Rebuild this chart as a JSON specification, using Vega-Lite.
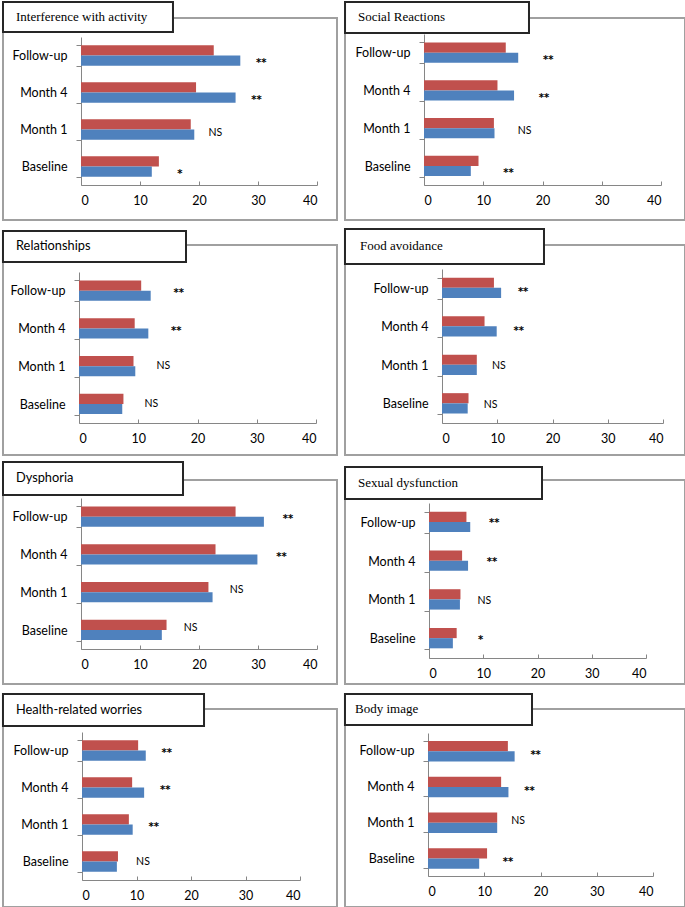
{
  "$schema": "https://vega.github.io/schema/vega-lite/v6.json",
  "background": "white",
  "padding": {"left": 0, "top": 0, "right": 0, "bottom": 0},
  "columns": 2,
  "spacing": {"row": 25, "column": 8},
  "bounds": "flush",
  "datasets": {
    "scores": [
      {"panel": "Interference with activity", "time": "Follow-up", "series": "Series 2", "value": 22.5, "sig": "**"},
      {"panel": "Interference with activity", "time": "Follow-up", "series": "Series 1", "value": 27.0, "sig": "**"},
      {"panel": "Interference with activity", "time": "Month 4", "series": "Series 2", "value": 19.5, "sig": "**"},
      {"panel": "Interference with activity", "time": "Month 4", "series": "Series 1", "value": 26.2, "sig": "**"},
      {"panel": "Interference with activity", "time": "Month 1", "series": "Series 2", "value": 18.6, "sig": "NS"},
      {"panel": "Interference with activity", "time": "Month 1", "series": "Series 1", "value": 19.2, "sig": "NS"},
      {"panel": "Interference with activity", "time": "Baseline", "series": "Series 2", "value": 13.2, "sig": "*"},
      {"panel": "Interference with activity", "time": "Baseline", "series": "Series 1", "value": 12.0, "sig": "*"},

      {"panel": "Social Reactions", "time": "Follow-up", "series": "Series 2", "value": 13.8, "sig": "**"},
      {"panel": "Social Reactions", "time": "Follow-up", "series": "Series 1", "value": 15.9, "sig": "**"},
      {"panel": "Social Reactions", "time": "Month 4", "series": "Series 2", "value": 12.4, "sig": "**"},
      {"panel": "Social Reactions", "time": "Month 4", "series": "Series 1", "value": 15.2, "sig": "**"},
      {"panel": "Social Reactions", "time": "Month 1", "series": "Series 2", "value": 11.8, "sig": "NS"},
      {"panel": "Social Reactions", "time": "Month 1", "series": "Series 1", "value": 11.9, "sig": "NS"},
      {"panel": "Social Reactions", "time": "Baseline", "series": "Series 2", "value": 9.2, "sig": "**"},
      {"panel": "Social Reactions", "time": "Baseline", "series": "Series 1", "value": 7.9, "sig": "**"},

      {"panel": "Relationships", "time": "Follow-up", "series": "Series 2", "value": 10.5, "sig": "**"},
      {"panel": "Relationships", "time": "Follow-up", "series": "Series 1", "value": 12.1, "sig": "**"},
      {"panel": "Relationships", "time": "Month 4", "series": "Series 2", "value": 9.4, "sig": "**"},
      {"panel": "Relationships", "time": "Month 4", "series": "Series 1", "value": 11.7, "sig": "**"},
      {"panel": "Relationships", "time": "Month 1", "series": "Series 2", "value": 9.2, "sig": "NS"},
      {"panel": "Relationships", "time": "Month 1", "series": "Series 1", "value": 9.5, "sig": "NS"},
      {"panel": "Relationships", "time": "Baseline", "series": "Series 2", "value": 7.5, "sig": "NS"},
      {"panel": "Relationships", "time": "Baseline", "series": "Series 1", "value": 7.3, "sig": "NS"},

      {"panel": "Food avoidance", "time": "Follow-up", "series": "Series 2", "value": 9.4, "sig": "**"},
      {"panel": "Food avoidance", "time": "Follow-up", "series": "Series 1", "value": 10.7, "sig": "**"},
      {"panel": "Food avoidance", "time": "Month 4", "series": "Series 2", "value": 7.7, "sig": "**"},
      {"panel": "Food avoidance", "time": "Month 4", "series": "Series 1", "value": 9.9, "sig": "**"},
      {"panel": "Food avoidance", "time": "Month 1", "series": "Series 2", "value": 6.3, "sig": "NS"},
      {"panel": "Food avoidance", "time": "Month 1", "series": "Series 1", "value": 6.3, "sig": "NS"},
      {"panel": "Food avoidance", "time": "Baseline", "series": "Series 2", "value": 4.8, "sig": "NS"},
      {"panel": "Food avoidance", "time": "Baseline", "series": "Series 1", "value": 4.65, "sig": "NS"},

      {"panel": "Dysphoria", "time": "Follow-up", "series": "Series 2", "value": 26.2, "sig": "**"},
      {"panel": "Dysphoria", "time": "Follow-up", "series": "Series 1", "value": 31.0, "sig": "**"},
      {"panel": "Dysphoria", "time": "Month 4", "series": "Series 2", "value": 22.8, "sig": "**"},
      {"panel": "Dysphoria", "time": "Month 4", "series": "Series 1", "value": 29.9, "sig": "**"},
      {"panel": "Dysphoria", "time": "Month 1", "series": "Series 2", "value": 21.6, "sig": "NS"},
      {"panel": "Dysphoria", "time": "Month 1", "series": "Series 1", "value": 22.3, "sig": "NS"},
      {"panel": "Dysphoria", "time": "Baseline", "series": "Series 2", "value": 14.5, "sig": "NS"},
      {"panel": "Dysphoria", "time": "Baseline", "series": "Series 1", "value": 13.7, "sig": "NS"},

      {"panel": "Sexual dysfunction", "time": "Follow-up", "series": "Series 2", "value": 6.9, "sig": "**"},
      {"panel": "Sexual dysfunction", "time": "Follow-up", "series": "Series 1", "value": 7.6, "sig": "**"},
      {"panel": "Sexual dysfunction", "time": "Month 4", "series": "Series 2", "value": 6.1, "sig": "**"},
      {"panel": "Sexual dysfunction", "time": "Month 4", "series": "Series 1", "value": 7.2, "sig": "**"},
      {"panel": "Sexual dysfunction", "time": "Month 1", "series": "Series 2", "value": 5.8, "sig": "NS"},
      {"panel": "Sexual dysfunction", "time": "Month 1", "series": "Series 1", "value": 5.7, "sig": "NS"},
      {"panel": "Sexual dysfunction", "time": "Baseline", "series": "Series 2", "value": 5.1, "sig": "*"},
      {"panel": "Sexual dysfunction", "time": "Baseline", "series": "Series 1", "value": 4.4, "sig": "*"},

      {"panel": "Health-related worries", "time": "Follow-up", "series": "Series 2", "value": 10.3, "sig": "**"},
      {"panel": "Health-related worries", "time": "Follow-up", "series": "Series 1", "value": 11.7, "sig": "**"},
      {"panel": "Health-related worries", "time": "Month 4", "series": "Series 2", "value": 9.2, "sig": "**"},
      {"panel": "Health-related worries", "time": "Month 4", "series": "Series 1", "value": 11.4, "sig": "**"},
      {"panel": "Health-related worries", "time": "Month 1", "series": "Series 2", "value": 8.6, "sig": "**"},
      {"panel": "Health-related worries", "time": "Month 1", "series": "Series 1", "value": 9.3, "sig": "**"},
      {"panel": "Health-related worries", "time": "Baseline", "series": "Series 2", "value": 6.6, "sig": "NS"},
      {"panel": "Health-related worries", "time": "Baseline", "series": "Series 1", "value": 6.4, "sig": "NS"},

      {"panel": "Body image", "time": "Follow-up", "series": "Series 2", "value": 14.2, "sig": "**"},
      {"panel": "Body image", "time": "Follow-up", "series": "Series 1", "value": 15.4, "sig": "**"},
      {"panel": "Body image", "time": "Month 4", "series": "Series 2", "value": 13.0, "sig": "**"},
      {"panel": "Body image", "time": "Month 4", "series": "Series 1", "value": 14.3, "sig": "**"},
      {"panel": "Body image", "time": "Month 1", "series": "Series 2", "value": 12.3, "sig": "NS"},
      {"panel": "Body image", "time": "Month 1", "series": "Series 1", "value": 12.3, "sig": "NS"},
      {"panel": "Body image", "time": "Baseline", "series": "Series 2", "value": 10.5, "sig": "**"},
      {"panel": "Body image", "time": "Baseline", "series": "Series 1", "value": 9.1, "sig": "**"}
    ]
  },
  "concat": [
    {
      "width": 334, "height": 202,
      "data": {"name": "scores"},
      "transform": [{"filter": "datum.panel === 'Interference with activity'"}],
      "layer": [
        {"layer": [
          {"mark": {"type": "bar"},
           "encoding": {
             "x": {"field": "value", "type": "quantitative", "title": null, "scale": {"domain": [0, 40], "range": [78, 314]}, "axis": {"values": [0, 10, 20, 30, 40], "offset": -35}},
             "y": {"field": "time", "type": "nominal", "title": null, "sort": ["Follow-up", "Month 4", "Month 1", "Baseline"], "scale": {"domain": ["Follow-up", "Month 4", "Month 1", "Baseline"], "range": [19, 167], "paddingInner": 0.45, "paddingOuter": 0.225}, "axis": {"offset": -78}},
             "yOffset": {"field": "series", "type": "nominal", "scale": {"domain": ["Series 2", "Series 1"]}},
             "color": {"field": "series", "type": "nominal", "scale": {"domain": ["Series 1", "Series 2"], "range": ["#4F81BD", "#C0504D"]}, "legend": null}
           }},
          {"transform": [{"filter": "datum.sig === 'NS'"}],
           "mark": {"type": "text", "align": "center", "baseline": "middle", "dx": 21, "dy": 3, "font": "Lato", "fontSize": 10.5, "color": "#000000"},
           "encoding": {"x": {"aggregate": "max", "field": "value", "type": "quantitative"}, "y": {"field": "time", "type": "nominal"}, "text": {"field": "sig", "type": "nominal"}}},
          {"transform": [{"filter": "datum.sig !== 'NS'"}],
           "mark": {"type": "text", "align": "center", "baseline": "middle", "dx": 21, "dy": 7, "font": "DejaVu Sans", "fontWeight": "bold", "fontSize": 10, "color": "#000000"},
           "encoding": {"x": {"aggregate": "max", "field": "value", "type": "quantitative"}, "y": {"field": "time", "type": "nominal"}, "text": {"field": "sig", "type": "nominal"}}}
        ]},
        {"data": {"values": [{"title": "Interference with activity"}]},
         "layer": [
          {"mark": {"type": "rect", "fill": "white", "stroke": "#262626", "strokeWidth": 2},
           "encoding": {"x": {"datum": -13.22}, "x2": {"datum": 15.59}, "y": {"datum": 1.0792, "type": "quantitative", "scale": {"domain": [0, 1], "nice": false, "zero": false}, "axis": null}, "y2": {"datum": 0.9307}}},
          {"mark": {"type": "text", "align": "left", "baseline": "middle", "font": "Liberation Serif", "fontSize": 13, "color": "#000000"},
           "encoding": {"x": {"datum": -11.02}, "y": {"datum": 1.0074, "type": "quantitative"}, "text": {"field": "title", "type": "nominal"}}}
        ]}
      ],
      "resolve": {"scale": {"y": "independent"}}
    },
    {
      "width": 340, "height": 202,
      "data": {"name": "scores"},
      "transform": [{"filter": "datum.panel === 'Social Reactions'"}],
      "layer": [
        {"layer": [
          {"mark": {"type": "bar"},
           "encoding": {
             "x": {"field": "value", "type": "quantitative", "title": null, "scale": {"domain": [0, 40], "range": [79, 316]}, "axis": {"values": [0, 10, 20, 30, 40], "offset": -35}},
             "y": {"field": "time", "type": "nominal", "title": null, "sort": ["Follow-up", "Month 4", "Month 1", "Baseline"], "scale": {"domain": ["Follow-up", "Month 4", "Month 1", "Baseline"], "range": [16, 167], "paddingInner": 0.45, "paddingOuter": 0.225}, "axis": {"offset": -79}},
             "yOffset": {"field": "series", "type": "nominal", "scale": {"domain": ["Series 2", "Series 1"]}},
             "color": {"field": "series", "type": "nominal", "scale": {"domain": ["Series 1", "Series 2"], "range": ["#4F81BD", "#C0504D"]}, "legend": null}
           }},
          {"transform": [{"filter": "datum.sig === 'NS'"}],
           "mark": {"type": "text", "align": "center", "baseline": "middle", "dx": 30, "dy": 3, "font": "Lato", "fontSize": 10.5, "color": "#000000"},
           "encoding": {"x": {"aggregate": "max", "field": "value", "type": "quantitative"}, "y": {"field": "time", "type": "nominal"}, "text": {"field": "sig", "type": "nominal"}}},
          {"transform": [{"filter": "datum.sig !== 'NS'"}],
           "mark": {"type": "text", "align": "center", "baseline": "middle", "dx": 30, "dy": 7, "font": "DejaVu Sans", "fontWeight": "bold", "fontSize": 10, "color": "#000000"},
           "encoding": {"x": {"aggregate": "max", "field": "value", "type": "quantitative"}, "y": {"field": "time", "type": "nominal"}, "text": {"field": "sig", "type": "nominal"}}}
        ]},
        {"data": {"values": [{"title": "Social Reactions"}]},
         "layer": [
          {"mark": {"type": "rect", "fill": "white", "stroke": "#262626", "strokeWidth": 2},
           "encoding": {"x": {"datum": -13.33}, "x2": {"datum": 17.72}, "y": {"datum": 1.0792, "type": "quantitative", "scale": {"domain": [0, 1], "nice": false, "zero": false}, "axis": null}, "y2": {"datum": 0.9257}}},
          {"mark": {"type": "text", "align": "left", "baseline": "middle", "font": "Liberation Serif", "fontSize": 13, "color": "#000000"},
           "encoding": {"x": {"datum": -11.14}, "y": {"datum": 1.005, "type": "quantitative"}, "text": {"field": "title", "type": "nominal"}}}
        ]}
      ],
      "resolve": {"scale": {"y": "independent"}}
    },
    {
      "width": 334, "height": 210,
      "data": {"name": "scores"},
      "transform": [{"filter": "datum.panel === 'Relationships'"}],
      "layer": [
        {"layer": [
          {"mark": {"type": "bar"},
           "encoding": {
             "x": {"field": "value", "type": "quantitative", "title": null, "scale": {"domain": [0, 40], "range": [76, 313]}, "axis": {"values": [0, 10, 20, 30, 40], "offset": -32}},
             "y": {"field": "time", "type": "nominal", "title": null, "sort": ["Follow-up", "Month 4", "Month 1", "Baseline"], "scale": {"domain": ["Follow-up", "Month 4", "Month 1", "Baseline"], "range": [27, 178], "paddingInner": 0.45, "paddingOuter": 0.225}, "axis": {"offset": -76}},
             "yOffset": {"field": "series", "type": "nominal", "scale": {"domain": ["Series 2", "Series 1"]}},
             "color": {"field": "series", "type": "nominal", "scale": {"domain": ["Series 1", "Series 2"], "range": ["#4F81BD", "#C0504D"]}, "legend": null}
           }},
          {"transform": [{"filter": "datum.sig === 'NS'"}],
           "mark": {"type": "text", "align": "center", "baseline": "middle", "dx": 28, "dy": 0, "font": "Lato", "fontSize": 10.5, "color": "#000000"},
           "encoding": {"x": {"aggregate": "max", "field": "value", "type": "quantitative"}, "y": {"field": "time", "type": "nominal"}, "text": {"field": "sig", "type": "nominal"}}},
          {"transform": [{"filter": "datum.sig !== 'NS'"}],
           "mark": {"type": "text", "align": "center", "baseline": "middle", "dx": 28, "dy": 2, "font": "DejaVu Sans", "fontWeight": "bold", "fontSize": 10, "color": "#000000"},
           "encoding": {"x": {"aggregate": "max", "field": "value", "type": "quantitative"}, "y": {"field": "time", "type": "nominal"}, "text": {"field": "sig", "type": "nominal"}}}
        ]},
        {"data": {"values": [{"title": "Relationships"}]},
         "layer": [
          {"mark": {"type": "rect", "fill": "white", "stroke": "#262626", "strokeWidth": 2},
           "encoding": {"x": {"datum": -12.83}, "x2": {"datum": 18.06}, "y": {"datum": 1.0667, "type": "quantitative", "scale": {"domain": [0, 1], "nice": false, "zero": false}, "axis": null}, "y2": {"datum": 0.919}}},
          {"mark": {"type": "text", "align": "left", "baseline": "middle", "font": "Lato", "fontSize": 12.8, "color": "#000000"},
           "encoding": {"x": {"datum": -10.63}, "y": {"datum": 0.9929, "type": "quantitative"}, "text": {"field": "title", "type": "nominal"}}}
        ]}
      ],
      "resolve": {"scale": {"y": "independent"}}
    },
    {
      "width": 340, "height": 210,
      "data": {"name": "scores"},
      "transform": [{"filter": "datum.panel === 'Food avoidance'"}],
      "layer": [
        {"layer": [
          {"mark": {"type": "bar"},
           "encoding": {
             "x": {"field": "value", "type": "quantitative", "title": null, "scale": {"domain": [0, 40], "range": [97, 318]}, "axis": {"values": [0, 10, 20, 30, 40], "offset": -32}},
             "y": {"field": "time", "type": "nominal", "title": null, "sort": ["Follow-up", "Month 4", "Month 1", "Baseline"], "scale": {"domain": ["Follow-up", "Month 4", "Month 1", "Baseline"], "range": [24, 178], "paddingInner": 0.45, "paddingOuter": 0.225}, "axis": {"offset": -97}},
             "yOffset": {"field": "series", "type": "nominal", "scale": {"domain": ["Series 2", "Series 1"]}},
             "color": {"field": "series", "type": "nominal", "scale": {"domain": ["Series 1", "Series 2"], "range": ["#4F81BD", "#C0504D"]}, "legend": null}
           }},
          {"transform": [{"filter": "datum.sig === 'NS'"}],
           "mark": {"type": "text", "align": "center", "baseline": "middle", "dx": 22, "dy": 1, "font": "Lato", "fontSize": 10.5, "color": "#000000"},
           "encoding": {"x": {"aggregate": "max", "field": "value", "type": "quantitative"}, "y": {"field": "time", "type": "nominal"}, "text": {"field": "sig", "type": "nominal"}}},
          {"transform": [{"filter": "datum.sig !== 'NS'"}],
           "mark": {"type": "text", "align": "center", "baseline": "middle", "dx": 22, "dy": 4, "font": "DejaVu Sans", "fontWeight": "bold", "fontSize": 10, "color": "#000000"},
           "encoding": {"x": {"aggregate": "max", "field": "value", "type": "quantitative"}, "y": {"field": "time", "type": "nominal"}, "text": {"field": "sig", "type": "nominal"}}}
        ]},
        {"data": {"values": [{"title": "Food avoidance"}]},
         "layer": [
          {"mark": {"type": "rect", "fill": "white", "stroke": "#262626", "strokeWidth": 2},
           "encoding": {"x": {"datum": -17.56}, "x2": {"datum": 18.46}, "y": {"datum": 1.0762, "type": "quantitative", "scale": {"domain": [0, 1], "nice": false, "zero": false}, "axis": null}, "y2": {"datum": 0.9095}}},
          {"mark": {"type": "text", "align": "left", "baseline": "middle", "font": "Liberation Serif", "fontSize": 13, "color": "#000000"},
           "encoding": {"x": {"datum": -14.84}, "y": {"datum": 0.9929, "type": "quantitative"}, "text": {"field": "title", "type": "nominal"}}}
        ]}
      ],
      "resolve": {"scale": {"y": "independent"}}
    },
    {
      "width": 334, "height": 204,
      "data": {"name": "scores"},
      "transform": [{"filter": "datum.panel === 'Dysphoria'"}],
      "layer": [
        {"layer": [
          {"mark": {"type": "bar"},
           "encoding": {
             "x": {"field": "value", "type": "quantitative", "title": null, "scale": {"domain": [0, 40], "range": [78, 314]}, "axis": {"values": [0, 10, 20, 30, 40], "offset": -35}},
             "y": {"field": "time", "type": "nominal", "title": null, "sort": ["Follow-up", "Month 4", "Month 1", "Baseline"], "scale": {"domain": ["Follow-up", "Month 4", "Month 1", "Baseline"], "range": [18, 169], "paddingInner": 0.45, "paddingOuter": 0.225}, "axis": {"offset": -78}},
             "yOffset": {"field": "series", "type": "nominal", "scale": {"domain": ["Series 2", "Series 1"]}},
             "color": {"field": "series", "type": "nominal", "scale": {"domain": ["Series 1", "Series 2"], "range": ["#4F81BD", "#C0504D"]}, "legend": null}
           }},
          {"transform": [{"filter": "datum.sig === 'NS'"}],
           "mark": {"type": "text", "align": "center", "baseline": "middle", "dx": 24, "dy": -2, "font": "Lato", "fontSize": 10.5, "color": "#000000"},
           "encoding": {"x": {"aggregate": "max", "field": "value", "type": "quantitative"}, "y": {"field": "time", "type": "nominal"}, "text": {"field": "sig", "type": "nominal"}}},
          {"transform": [{"filter": "datum.sig !== 'NS'"}],
           "mark": {"type": "text", "align": "center", "baseline": "middle", "dx": 24, "dy": 2, "font": "DejaVu Sans", "fontWeight": "bold", "fontSize": 10, "color": "#000000"},
           "encoding": {"x": {"aggregate": "max", "field": "value", "type": "quantitative"}, "y": {"field": "time", "type": "nominal"}, "text": {"field": "sig", "type": "nominal"}}}
        ]},
        {"data": {"values": [{"title": "Dysphoria"}]},
         "layer": [
          {"mark": {"type": "rect", "fill": "white", "stroke": "#262626", "strokeWidth": 2},
           "encoding": {"x": {"datum": -13.22}, "x2": {"datum": 17.29}, "y": {"datum": 1.0882, "type": "quantitative", "scale": {"domain": [0, 1], "nice": false, "zero": false}, "axis": null}, "y2": {"datum": 0.9265}}},
          {"mark": {"type": "text", "align": "left", "baseline": "middle", "font": "Lato", "fontSize": 12.8, "color": "#000000"},
           "encoding": {"x": {"datum": -11.02}, "y": {"datum": 1.0074, "type": "quantitative"}, "text": {"field": "title", "type": "nominal"}}}
        ]}
      ],
      "resolve": {"scale": {"y": "independent"}}
    },
    {
      "width": 340, "height": 204,
      "data": {"name": "scores"},
      "transform": [{"filter": "datum.panel === 'Sexual dysfunction'"}],
      "layer": [
        {"layer": [
          {"mark": {"type": "bar"},
           "encoding": {
             "x": {"field": "value", "type": "quantitative", "title": null, "scale": {"domain": [0, 40], "range": [84, 301]}, "axis": {"values": [0, 10, 20, 30, 40], "offset": -26}},
             "y": {"field": "time", "type": "nominal", "title": null, "sort": ["Follow-up", "Month 4", "Month 1", "Baseline"], "scale": {"domain": ["Follow-up", "Month 4", "Month 1", "Baseline"], "range": [23, 178], "paddingInner": 0.45, "paddingOuter": 0.225}, "axis": {"offset": -84}},
             "yOffset": {"field": "series", "type": "nominal", "scale": {"domain": ["Series 2", "Series 1"]}},
             "color": {"field": "series", "type": "nominal", "scale": {"domain": ["Series 1", "Series 2"], "range": ["#4F81BD", "#C0504D"]}, "legend": null}
           }},
          {"transform": [{"filter": "datum.sig === 'NS'"}],
           "mark": {"type": "text", "align": "center", "baseline": "middle", "dx": 24, "dy": 1, "font": "Lato", "fontSize": 10.5, "color": "#000000"},
           "encoding": {"x": {"aggregate": "max", "field": "value", "type": "quantitative"}, "y": {"field": "time", "type": "nominal"}, "text": {"field": "sig", "type": "nominal"}}},
          {"transform": [{"filter": "datum.sig !== 'NS'"}],
           "mark": {"type": "text", "align": "center", "baseline": "middle", "dx": 24, "dy": 1, "font": "DejaVu Sans", "fontWeight": "bold", "fontSize": 10, "color": "#000000"},
           "encoding": {"x": {"aggregate": "max", "field": "value", "type": "quantitative"}, "y": {"field": "time", "type": "nominal"}, "text": {"field": "sig", "type": "nominal"}}}
        ]},
        {"data": {"values": [{"title": "Sexual dysfunction"}]},
         "layer": [
          {"mark": {"type": "rect", "fill": "white", "stroke": "#262626", "strokeWidth": 2},
           "encoding": {"x": {"datum": -15.48}, "x2": {"datum": 20.83}, "y": {"datum": 1.0637, "type": "quantitative", "scale": {"domain": [0, 1], "nice": false, "zero": false}, "axis": null}, "y2": {"datum": 0.9069}}},
          {"mark": {"type": "text", "align": "left", "baseline": "middle", "font": "Liberation Serif", "fontSize": 13, "color": "#000000"},
           "encoding": {"x": {"datum": -13.09}, "y": {"datum": 0.9853, "type": "quantitative"}, "text": {"field": "title", "type": "nominal"}}}
        ]}
      ],
      "resolve": {"scale": {"y": "independent"}}
    },
    {
      "width": 334, "height": 198,
      "data": {"name": "scores"},
      "transform": [{"filter": "datum.panel === 'Health-related worries'"}],
      "layer": [
        {"layer": [
          {"mark": {"type": "bar"},
           "encoding": {
             "x": {"field": "value", "type": "quantitative", "title": null, "scale": {"domain": [0, 40], "range": [79, 297]}, "axis": {"values": [0, 10, 20, 30, 40], "offset": -27}},
             "y": {"field": "time", "type": "nominal", "title": null, "sort": ["Follow-up", "Month 4", "Month 1", "Baseline"], "scale": {"domain": ["Follow-up", "Month 4", "Month 1", "Baseline"], "range": [23, 171], "paddingInner": 0.45, "paddingOuter": 0.225}, "axis": {"offset": -79}},
             "yOffset": {"field": "series", "type": "nominal", "scale": {"domain": ["Series 2", "Series 1"]}},
             "color": {"field": "series", "type": "nominal", "scale": {"domain": ["Series 1", "Series 2"], "range": ["#4F81BD", "#C0504D"]}, "legend": null}
           }},
          {"transform": [{"filter": "datum.sig === 'NS'"}],
           "mark": {"type": "text", "align": "center", "baseline": "middle", "dx": 25, "dy": 0, "font": "Lato", "fontSize": 10.5, "color": "#000000"},
           "encoding": {"x": {"aggregate": "max", "field": "value", "type": "quantitative"}, "y": {"field": "time", "type": "nominal"}, "text": {"field": "sig", "type": "nominal"}}},
          {"transform": [{"filter": "datum.sig !== 'NS'"}],
           "mark": {"type": "text", "align": "center", "baseline": "middle", "dx": 21, "dy": 2, "font": "DejaVu Sans", "fontWeight": "bold", "fontSize": 10, "color": "#000000"},
           "encoding": {"x": {"aggregate": "max", "field": "value", "type": "quantitative"}, "y": {"field": "time", "type": "nominal"}, "text": {"field": "sig", "type": "nominal"}}}
        ]},
        {"data": {"values": [{"title": "Health-related worries"}]},
         "layer": [
          {"mark": {"type": "rect", "fill": "white", "stroke": "#262626", "strokeWidth": 2},
           "encoding": {"x": {"datum": -14.5}, "x2": {"datum": 22.39}, "y": {"datum": 1.0758, "type": "quantitative", "scale": {"domain": [0, 1], "nice": false, "zero": false}, "axis": null}, "y2": {"datum": 0.9141}}},
          {"mark": {"type": "text", "align": "left", "baseline": "middle", "font": "Lato", "fontSize": 12.8, "color": "#000000"},
           "encoding": {"x": {"datum": -12.11}, "y": {"datum": 0.9949, "type": "quantitative"}, "text": {"field": "title", "type": "nominal"}}}
        ]}
      ],
      "resolve": {"scale": {"y": "independent"}}
    },
    {
      "width": 340, "height": 198,
      "data": {"name": "scores"},
      "transform": [{"filter": "datum.panel === 'Body image'"}],
      "layer": [
        {"layer": [
          {"mark": {"type": "bar"},
           "encoding": {
             "x": {"field": "value", "type": "quantitative", "title": null, "scale": {"domain": [0, 40], "range": [83, 308]}, "axis": {"values": [0, 10, 20, 30, 40], "offset": -31}},
             "y": {"field": "time", "type": "nominal", "title": null, "sort": ["Follow-up", "Month 4", "Month 1", "Baseline"], "scale": {"domain": ["Follow-up", "Month 4", "Month 1", "Baseline"], "range": [24, 167], "paddingInner": 0.45, "paddingOuter": 0.225}, "axis": {"offset": -83}},
             "yOffset": {"field": "series", "type": "nominal", "scale": {"domain": ["Series 2", "Series 1"]}},
             "color": {"field": "series", "type": "nominal", "scale": {"domain": ["Series 1", "Series 2"], "range": ["#4F81BD", "#C0504D"]}, "legend": null}
           }},
          {"transform": [{"filter": "datum.sig === 'NS'"}],
           "mark": {"type": "text", "align": "center", "baseline": "middle", "dx": 21, "dy": -1, "font": "Lato", "fontSize": 10.5, "color": "#000000"},
           "encoding": {"x": {"aggregate": "max", "field": "value", "type": "quantitative"}, "y": {"field": "time", "type": "nominal"}, "text": {"field": "sig", "type": "nominal"}}},
          {"transform": [{"filter": "datum.sig !== 'NS'"}],
           "mark": {"type": "text", "align": "center", "baseline": "middle", "dx": 21, "dy": 4, "font": "DejaVu Sans", "fontWeight": "bold", "fontSize": 10, "color": "#000000"},
           "encoding": {"x": {"aggregate": "max", "field": "value", "type": "quantitative"}, "y": {"field": "time", "type": "nominal"}, "text": {"field": "sig", "type": "nominal"}}}
        ]},
        {"data": {"values": [{"title": "Body image"}]},
         "layer": [
          {"mark": {"type": "rect", "fill": "white", "stroke": "#262626", "strokeWidth": 2},
           "encoding": {"x": {"datum": -14.76}, "x2": {"datum": 18.49}, "y": {"datum": 1.0758, "type": "quantitative", "scale": {"domain": [0, 1], "nice": false, "zero": false}, "axis": null}, "y2": {"datum": 0.9192}}},
          {"mark": {"type": "text", "align": "left", "baseline": "middle", "font": "Liberation Serif", "fontSize": 13, "color": "#000000"},
           "encoding": {"x": {"datum": -12.98}, "y": {"datum": 0.9975, "type": "quantitative"}, "text": {"field": "title", "type": "nominal"}}}
        ]}
      ],
      "resolve": {"scale": {"y": "independent"}}
    }
  ],
  "config": {
    "view": {"stroke": "#a0a0a0", "strokeWidth": 2},
    "axis": {"domainColor": "#868686", "tickColor": "#868686", "labelFont": "Lato", "labelFontSize": 12.5, "labelColor": "#000000", "grid": false, "domainWidth": 1, "tickWidth": 1},
    "axisX": {"tickSize": -4, "labelPadding": 13},
    "axisY": {"tickBand": "extent", "tickSize": 5, "labelPadding": 9}
  }
}
